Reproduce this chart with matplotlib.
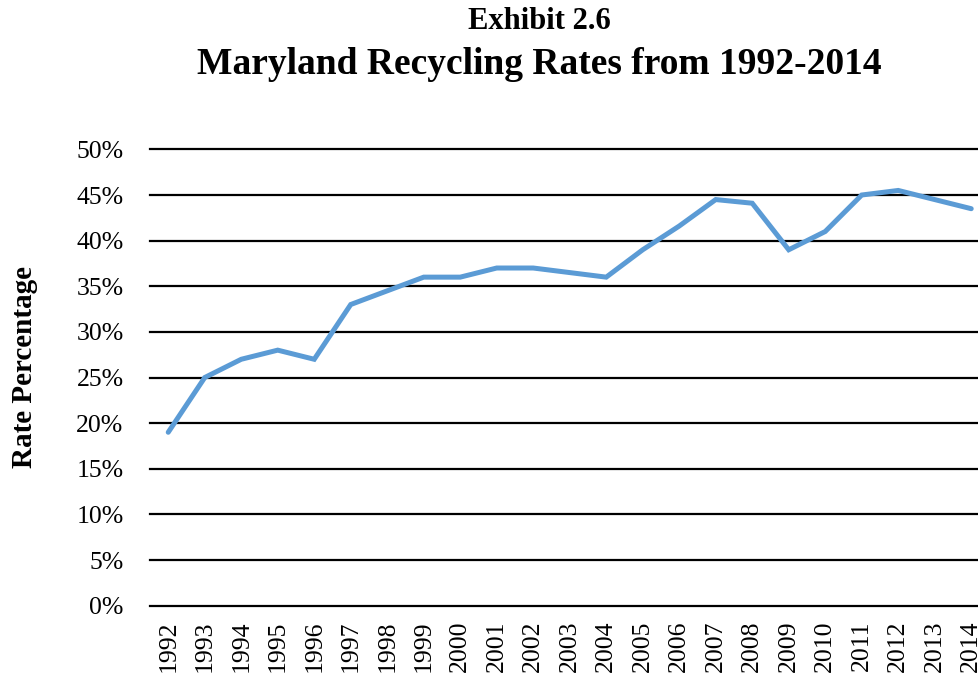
import matplotlib
matplotlib.use("Agg")
import matplotlib.pyplot as plt
from matplotlib.ticker import PercentFormatter

years = [str(y) for y in range(1992, 2015)]
rates = [19.0, 25.0, 27.0, 28.0, 27.0, 33.0, 34.5, 36.0, 36.0, 37.0, 37.0, 36.5,
         36.0, 39.0, 41.6, 44.5, 44.1, 39.0, 41.0, 45.0, 45.5, 44.5, 43.5]

plt.rcParams["font.family"] = ["Liberation Serif", "DejaVu Serif"]

fig = plt.figure(figsize=(9.79, 6.79), dpi=100)
ax = fig.add_axes([0.1532, 0.108, 0.8575, 0.672])

x = list(range(len(years)))
# horizontal gridlines drawn as full-width black rules
for v in range(0, 55, 5):
    ax.axhline(v, color="black", lw=1.6, zorder=1, clip_on=False)
ax.plot(x, rates, color="#5B9BD5", lw=3.6, solid_capstyle="round", solid_joinstyle="miter", zorder=3)

ax.set_xlim(-0.5, len(years) - 0.5)
ax.set_ylim(0, 50)
ax.set_yticks(range(0, 55, 5))
ax.yaxis.set_major_formatter(PercentFormatter(decimals=0))
ax.set_xticks(x)
ax.set_xticklabels(years, rotation=90)
ax.tick_params(axis="both", length=0, labelsize=18.5, colors="black")
ax.tick_params(axis="y", pad=19)
ax.tick_params(axis="x", pad=11)
for s in ax.spines.values():
    s.set_visible(False)

ax.set_ylabel("Rate Percentage", fontsize=21, fontweight="bold", va="center")
ax.yaxis.set_label_coords(-0.150, 0.522)

fig.text(0.551, 0.969, "Exhibit 2.6", ha="center", va="center", fontsize=22, fontweight="bold")
fig.text(0.551, 0.905, "Maryland Recycling Rates from 1992-2014", ha="center", va="center",
         fontsize=27, fontweight="bold")

fig.savefig("out.png", dpi=100)
